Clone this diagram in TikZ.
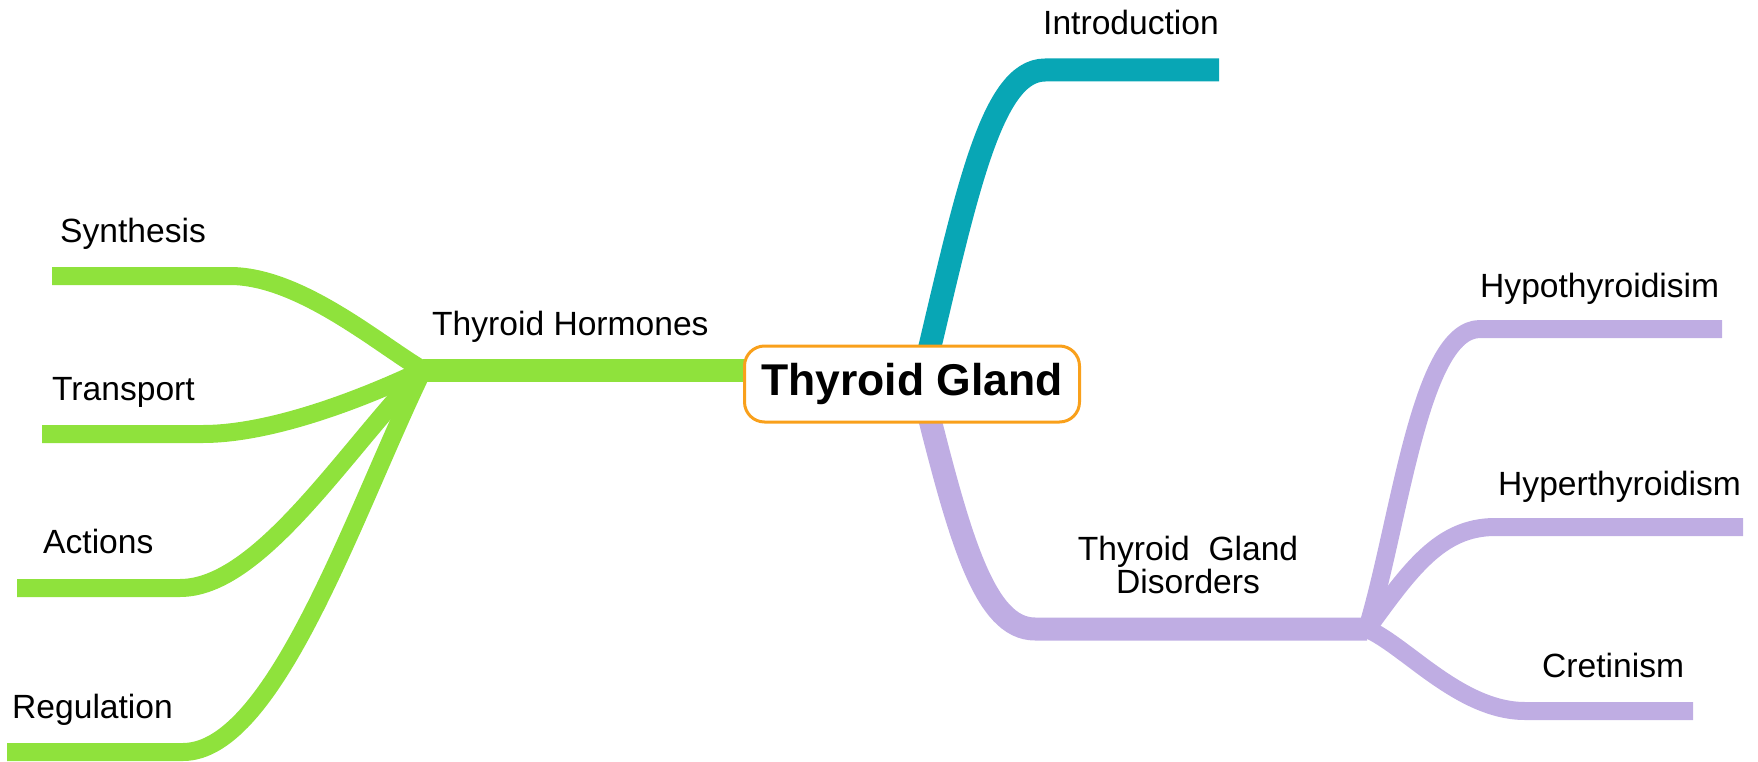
\documentclass[tikz,border=0pt]{standalone}
\usepackage{fontspec}
\setmainfont{Liberation Sans}
\definecolor{mmgreen}{RGB}{143,226,60}
\definecolor{mmteal}{RGB}{8,166,181}
\definecolor{mmpurple}{RGB}{191,173,227}
\definecolor{mmorange}{RGB}{249,160,27}
\begin{document}
\begin{tikzpicture}[x=1pt,y=-1pt,
  lbl/.style={anchor=base west,inner sep=0pt,font={\fontsize{33.6}{33}\selectfont}},
  mainbr/.style={line width=23pt,line cap=butt,line join=round},
  subbr/.style={line width=18pt,line cap=butt,line join=round},
  rootbox/.style={draw=mmorange,line width=3pt,fill=white,rounded corners=20pt,
    minimum width=335pt,minimum height=76pt,inner sep=0pt,
    font={\fontsize{44.5}{44.5}\selectfont\bfseries}}]
\useasboundingbox (0,0) rectangle (1758,762);

% junction coordinates
\coordinate (hubL) at (423,370);
\coordinate (hubR) at (1367,629);
\coordinate (introS) at (922,380);
\coordinate (introE) at (1219,70);
\coordinate (disS) at (925,400);
\coordinate (synE) at (52,276);
\coordinate (traE) at (42,434);
\coordinate (actE) at (17,588);
\coordinate (regE) at (7,752);
\coordinate (hypoE) at (1722,329);
\coordinate (hyperE) at (1743,527);
\coordinate (cretE) at (1693,711);
\coordinate (rootW) at (760,370);

% main branches
\draw[mainbr,mmgreen] (hubL) -- (rootW);
\draw[mainbr,mmteal] (introS) .. controls (965,200) and (990,70) .. (1045,70) -- (introE);
\draw[mainbr,mmpurple] (disS) .. controls (960,540) and (985,629) .. (1035,629) -- (hubR);

% green sub-branches
\draw[subbr,mmgreen] (hubL) .. controls (380,345) and (300,276) .. (230,276) -- (synE);
\draw[subbr,mmgreen] (hubL) .. controls (360,400) and (270,434) .. (203,434) -- (traE);
\draw[subbr,mmgreen] (hubL) .. controls (345,450) and (260,588) .. (180,588) -- (actE);
\draw[subbr,mmgreen] (hubL) .. controls (355,510) and (275,752) .. (183,752) -- (regE);

% purple sub-branches
\draw[subbr,mmpurple] (hubR) .. controls (1400,520) and (1420,329) .. (1480,329) -- (hypoE);
\draw[subbr,mmpurple] (hubR) .. controls (1410,570) and (1440,527) .. (1495,527) -- (hyperE);
\draw[subbr,mmpurple] (hubR) .. controls (1405,645) and (1460,711) .. (1525,711) -- (cretE);

% root
\node[rootbox] (root) at (912,384) {Thyroid Gland};

% labels
\node[lbl] (intro) at (1043,35) {Introduction};
\node[lbl] (hormones) at (432,335) {Thyroid Hormones};
\node[lbl] (synth) at (60,242) {Synthesis};
\node[lbl] (transp) at (52,400) {Transport};
\node[lbl] (actions) at (43,553) {Actions};
\node[lbl] (regul) at (12,718) {Regulation};
\node[anchor=base,inner sep=0pt,align=center,font={\fontsize{33.6}{33}\selectfont}] (disorders) at (1188,593) {Thyroid\ \ Gland\\Disorders};
\node[lbl] (hypo) at (1480,297) {Hypothyroidisim};
\node[lbl] (hyper) at (1498,495) {Hyperthyroidism};
\node[lbl] (cret) at (1542,677) {Cretinism};
\end{tikzpicture}
\end{document}
